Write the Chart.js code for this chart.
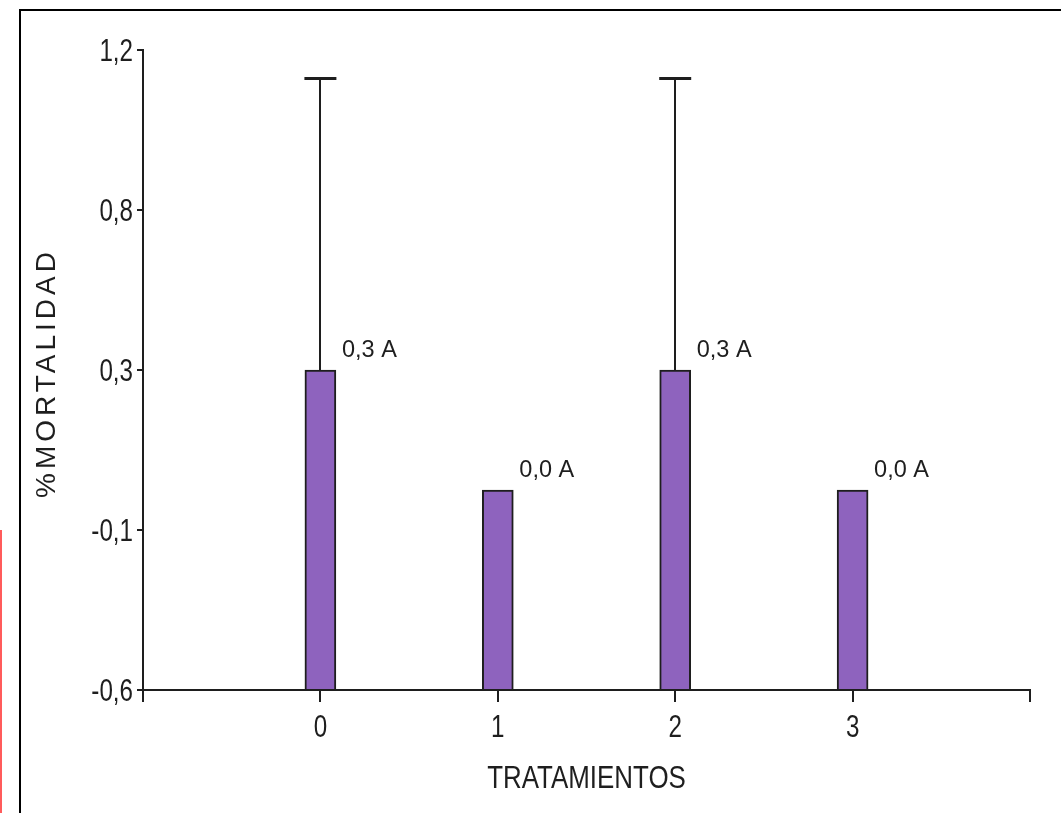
<!DOCTYPE html>
<html>
<head>
<meta charset="utf-8">
<title>% Mortalidad por tratamiento</title>
<script src="https://cdn.jsdelivr.net/npm/chart.js@4.4.1/dist/chart.umd.min.js"></script>
<style>
  html, body { margin: 0; padding: 0; background: #fff; overflow: hidden; }
  #wrap { position: relative; width: 1061px; height: 813px; }
  canvas { display: block; }
</style>
</head>
<body>
<div id="wrap"><canvas id="chart" width="1061" height="813"></canvas></div>
<script>
// Treatments, mean mortality, upper error and Tukey-style group letters
const categories = ['0', '1', '2', '3'];
const means = [0.3, 0.0, 0.3, 0.0];
const upperErrors = [0.83, 0.0, 0.83, 0.0];
const groupLetters = ['A', 'A', 'A', 'A'];

// Y axis break values (equally spaced on the axis), X axis range
const yTickValues = [-0.6, -0.1, 0.3, 0.8, 1.2];
const xTickValues = [-1, 0, 1, 2, 3, 4];

const INK = '#1e1e1e';
const BAR_FILL = 'rgb(142, 99, 190)';
const SANS = '"Liberation Sans", Arial, sans-serif';

const fmt = v => v.toFixed(1).replace('.', ',');

// Text drawn with an optional horizontal squeeze (narrow face look)
function drawText(ctx, text, x, y, o) {
  ctx.save();
  ctx.font = o.size + 'px ' + SANS;
  ctx.fillStyle = INK;
  ctx.textBaseline = o.baseline || 'alphabetic';
  ctx.textAlign = 'left';
  ctx.letterSpacing = (o.spacing || 0) + 'px';
  const sx = o.sx || 1;
  const w = ctx.measureText(text).width * sx;
  const left = o.align === 'right' ? x - w : o.align === 'center' ? x - w / 2 : x;
  ctx.translate(left, y);
  ctx.scale(sx, 1);
  ctx.fillText(text, 0, 0);
  ctx.restore();
}

// Value axis whose break values are spaced evenly, linear between neighbours
class SteppedScale extends Chart.LinearScale {
  static id = 'stepped';
  buildTicks() {
    const s = this.options.steps;
    this.min = s[0];
    this.max = s[s.length - 1];
    return s.map(v => ({ value: v }));
  }
  getPixelForValue(value) {
    if (value === null || value === undefined || isNaN(value)) return NaN;
    const s = this.options.steps;
    const n = s.length - 1;
    let i = 0;
    while (i < n - 1 && value > s[i + 1]) i++;
    const dec = (i + (value - s[i]) / (s[i + 1] - s[i])) / n;
    return this.getPixelForDecimal(dec);
  }
  getValueForPixel(pixel) {
    const s = this.options.steps;
    const n = s.length - 1;
    const d = this.getDecimalForPixel(pixel) * n;
    const i = Math.min(n - 1, Math.max(0, Math.floor(d)));
    return s[i] + (d - i) * (s[i + 1] - s[i]);
  }
}
Chart.register(SteppedScale);

// Outer frame of the figure
const framePlugin = {
  id: 'frame',
  beforeDraw(chart) {
    const ctx = chart.ctx;
    ctx.save();
    ctx.fillStyle = '#000';
    ctx.fillRect(19, 9, 1042, 2);
    ctx.fillRect(19, 9, 2, 804);
    ctx.fillStyle = '#ff5b5b';
    ctx.fillRect(0, 530, 2, 283);
    ctx.restore();
  }
};

// Tick labels and axis titles
const axisTextPlugin = {
  id: 'axisText',
  afterDraw(chart) {
    const ctx = chart.ctx;
    const xs = chart.scales.x;
    const ys = chart.scales.y;
    const area = chart.chartArea;

    ys.ticks.forEach(t => {
      drawText(ctx, fmt(t.value), xs.left - 10, ys.getPixelForValue(t.value) + 11,
        { size: 31, sx: 0.78, align: 'right' });
    });

    xs.ticks.forEach(t => {
      const label = String(t.value);
      if (!categories.includes(label)) return;
      drawText(ctx, label, xs.getPixelForValue(t.value), area.bottom + 47,
        { size: 31, sx: 0.78, align: 'center' });
    });

    drawText(ctx, 'TRATAMIENTOS', (area.left + area.right) / 2, 788,
      { size: 32, sx: 0.81, align: 'center' });

    ctx.save();
    ctx.translate(47, (area.top + area.bottom) / 2 + 3);
    ctx.rotate(-Math.PI / 2);
    drawText(ctx, '%MORTALIDAD', 0, 0,
      { size: 28, spacing: 4, align: 'center', baseline: 'middle' });
    ctx.restore();
  }
};

// Upper error whiskers and mean/letter labels beside each bar
const annotatePlugin = {
  id: 'annotate',
  afterDatasetsDraw(chart) {
    const ctx = chart.ctx;
    const y = chart.scales.y;
    const bars = chart.getDatasetMeta(0).data;
    ctx.save();
    bars.forEach((bar, i) => {
      if (upperErrors[i] > 0) {
        const top = y.getPixelForValue(means[i] + upperErrors[i]);
        ctx.strokeStyle = INK;
        ctx.lineWidth = 2;
        ctx.beginPath();
        ctx.moveTo(Math.round(bar.x), bar.y);
        ctx.lineTo(Math.round(bar.x), top);
        ctx.stroke();
        ctx.lineWidth = 3;
        ctx.beginPath();
        ctx.moveTo(bar.x - 16, Math.round(top) + 0.5);
        ctx.lineTo(bar.x + 16, Math.round(top) + 0.5);
        ctx.stroke();
      }
      drawText(ctx, fmt(means[i]) + ' ' + groupLetters[i],
        bar.x + bar.width / 2 + 6, bar.y - 13, { size: 24, sx: 0.98 });
    });
    ctx.restore();
  }
};

new Chart(document.getElementById('chart'), {
  type: 'bar',
  data: {
    datasets: [{
      data: categories.map((c, i) => ({ x: Number(c), y: means[i] })),
      base: yTickValues[0],
      backgroundColor: BAR_FILL,
      borderColor: INK,
      borderWidth: 2,
      borderSkipped: 'bottom',
      barThickness: 31
    }]
  },
  options: {
    responsive: false,
    animation: false,
    devicePixelRatio: 1,
    layout: { padding: { left: 63, top: 50, right: 31, bottom: 0 } },
    plugins: {
      legend: { display: false },
      tooltip: { enabled: false },
      title: { display: false }
    },
    scales: {
      x: {
        type: 'linear',
        min: xTickValues[0],
        max: xTickValues[xTickValues.length - 1],
        offset: false,
        afterBuildTicks: s => { s.ticks = xTickValues.map(v => ({ value: v })); },
        afterFit: s => { s.height = 123; },
        grid: {
          offset: false,
          drawOnChartArea: false,
          drawTicks: true,
          tickLength: 12,
          color: INK,
          lineWidth: 2
        },
        border: { display: true, color: INK, width: 2 },
        ticks: { display: false }
      },
      y: {
        type: 'stepped',
        steps: yTickValues,
        min: yTickValues[0],
        max: yTickValues[yTickValues.length - 1],
        afterFit: s => { s.width = 80; },
        grid: {
          drawOnChartArea: false,
          drawTicks: true,
          tickLength: 6,
          color: INK,
          lineWidth: 2
        },
        border: { display: true, color: INK, width: 2 },
        ticks: { display: false }
      }
    }
  },
  plugins: [framePlugin, annotatePlugin, axisTextPlugin]
});
</script>
</body>
</html>
